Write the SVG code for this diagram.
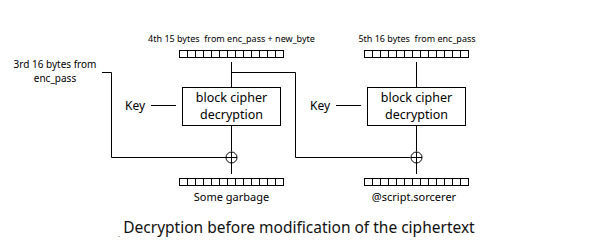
<svg xmlns="http://www.w3.org/2000/svg" width="601" height="242" viewBox="0 0 601 242">
  <defs>
    <style>
      .ln { fill: none; stroke: #000; stroke-width: 1; }
      .box { fill: #fff; stroke: #000; stroke-width: 1; }
      .cell { fill: #fff; stroke: #000; stroke-width: 1; }
      .lbl { font-family: "Noto Sans", "Open Sans", sans-serif; fill: #000; }
      .small { font-size: 9px; white-space: pre; }
      .mid { font-size: 10px; }
      .out { font-size: 11px; }
      .key { font-size: 12px; }
      .big { font-size: 12.5px; }
      .title { font-size: 15.5px; fill: #111; }
    </style>
    <!-- a block of 13 byte cells, 8px each -->
    <g id="bytes">
      <rect class="cell" x="0" y="0" width="104" height="7"/>
      <path class="ln" d="M8,0v7M16,0v7M24,0v7M32,0v7M40,0v7M48,0v7M56,0v7M64,0v7M72,0v7M80,0v7M88,0v7M96,0v7"/>
    </g>
    <g id="xor">
      <circle cx="0" cy="0" r="5.5" fill="#fff" stroke="#000" stroke-width="1"/>
      <path class="ln" d="M-5.5,0h11M0,-5.5v11"/>
    </g>
  </defs>

  <rect width="601" height="242" fill="#fff"/>

  <!-- connectors -->
  <g id="connectors">
    <!-- left column -->
    <path class="ln" d="M231.5,62V87"/>
    <path class="ln" d="M231.5,126V151.5"/>
    <path class="ln" d="M231.5,162.5V174"/>
    <path class="ln" d="M151,105.5H176"/>
    <!-- previous block feeds the left xor -->
    <path class="ln" d="M102,72.5H111.5V157.5H226"/>
    <!-- this block feeds the right xor -->
    <path class="ln" d="M231.5,72.5H295.5V157.5H410.5"/>
    <!-- right column -->
    <path class="ln" d="M416.5,62V87"/>
    <path class="ln" d="M416.5,126V151.5"/>
    <path class="ln" d="M416.5,162.5V174"/>
    <path class="ln" d="M336,105.5H361"/>
  </g>

  <g id="prev-block">
    <text class="lbl mid" x="55" y="68" text-anchor="middle">3rd 16 bytes from</text>
    <text class="lbl mid" x="55" y="82" text-anchor="middle">enc_pass</text>
  </g>

  <g id="cipher-left">
    <text class="lbl small" x="231.5" y="42" text-anchor="middle">4th 15 bytes  from enc_pass + new_byte</text>
    <use href="#bytes" x="179.5" y="50.5"/>
  </g>

  <g id="key-left">
    <text class="lbl key" x="125" y="110">Key</text>
  </g>

  <g id="decrypt-left">
    <rect class="box" x="182.5" y="87.5" width="98" height="38"/>
    <text class="lbl big" x="231.5" y="101.5" text-anchor="middle">block cipher</text>
    <text class="lbl big" x="231.5" y="118.5" text-anchor="middle">decryption</text>
  </g>

  <g id="xor-left">
    <use href="#xor" x="231.5" y="157.5"/>
  </g>

  <g id="plain-left">
    <use href="#bytes" x="179.5" y="178.5"/>
    <text class="lbl out" x="231.5" y="201" text-anchor="middle">Some garbage</text>
  </g>

  <g id="cipher-right">
    <text class="lbl small" x="417" y="42" text-anchor="middle">5th 16 bytes  from enc_pass</text>
    <use href="#bytes" x="364.5" y="50.5"/>
  </g>

  <g id="key-right">
    <text class="lbl key" x="310" y="110">Key</text>
  </g>

  <g id="decrypt-right">
    <rect class="box" x="367.5" y="87.5" width="98" height="38"/>
    <text class="lbl big" x="416.5" y="101.5" text-anchor="middle">block cipher</text>
    <text class="lbl big" x="416.5" y="118.5" text-anchor="middle">decryption</text>
  </g>

  <g id="xor-right">
    <use href="#xor" x="416.5" y="157.5"/>
  </g>

  <g id="plain-right">
    <use href="#bytes" x="364.5" y="178.5"/>
    <text class="lbl out" x="414" y="201" text-anchor="middle">@script.sorcerer</text>
  </g>

  <text class="lbl title" x="299" y="233" text-anchor="middle">Decryption before modification of the ciphertext</text>
  <text class="lbl" x="118" y="241" font-size="7" fill="#888">`</text>
</svg>
